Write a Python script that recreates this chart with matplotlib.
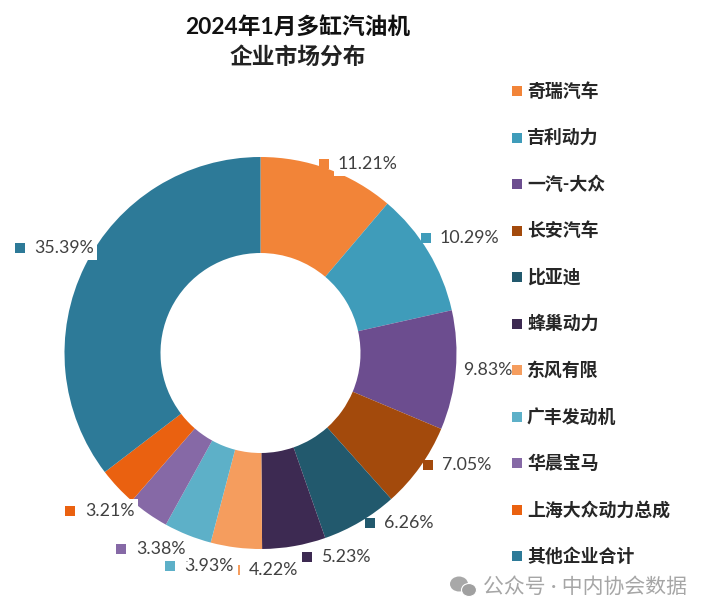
# -*- coding: utf-8 -*-
import matplotlib
matplotlib.use('Agg')
import matplotlib.pyplot as plt
from matplotlib.patches import Ellipse, Rectangle

plt.rcParams['font.family'] = ['Lato', 'Noto Sans CJK SC', 'DejaVu Sans']

# данные
companies = ['奇瑞汽车', '吉利动力', '一汽-大众', '长安汽车', '比亚迪', '蜂巢动力',
             '东风有限', '广丰发动机', '华晨宝马', '上海大众动力总成', '其他企业合计']
shares = [11.21, 10.29, 9.83, 7.05, 6.26, 5.23, 4.22, 3.93, 3.38, 3.21, 35.39]
colors = ['#F28438', '#3F9CBA', '#6C4D8F', '#A34A0C', '#22596D', '#3D2A52',
          '#F59D5E', '#5DB0C8', '#8669A6', '#EA6110', '#2D7A98']

H = 605
cx, cy, R, r = 260.5, 353, 196, 100

# где стоят подписи: маркер x, текст x, y (пиксели)
label_pos = [(324, 338, 164), (426, 440, 238), (None, 463, 370), (428, 442, 465),
             (370, 384, 523), (307, 321, 557), (239, 249, 570), (170, 184, 566),
             (121, 136, 549), (70, 85, 511), (20, 34, 248)]

fig = plt.figure(figsize=(7.04, 6.05), dpi=100)
ax = fig.add_axes([0, 0, 1, 1])

wedges, _ = ax.pie(shares, colors=colors, startangle=90, counterclock=False,
                   center=(cx, H - cy), radius=R, frame=True,
                   wedgeprops={'width': R - r, 'linewidth': 0})
ax.set_xlim(0, 704)
ax.set_ylim(0, H)
ax.set_aspect('equal')
ax.axis('off')

# подписи
for val, col, (mx, tx, y) in zip(shares, colors, label_pos):
    ax.text(tx, H - y, f'{val:.2f}%', fontsize=12.8, color='#404040', va='center',
            ha='left', zorder=5,
            bbox=dict(facecolor='white', edgecolor='none', pad=2.5))
    if mx is not None:
        w = 2 if val == 4.22 else 10
        ax.add_patch(Rectangle((mx - w / 2, H - y - 5), w, 10, facecolor=col,
                               edgecolor='none', zorder=6))

# заголовок
ax.text(298, H - 27, '2024年1月多缸汽油机', fontsize=16.4, fontweight='bold',
        ha='center', va='center', color='#111111')
ax.text(298, H - 57, '企业市场分布', fontsize=16.4, fontweight='bold',
        ha='center', va='center', color='#222222')

# легенда
for i, (name, col) in enumerate(zip(companies, colors)):
    y = 91 + i * 46.5
    ax.add_patch(Rectangle((512, H - y - 5), 10, 10, facecolor=col, edgecolor='none', zorder=7))
    ax.text(527, H - y, name, fontsize=12.9, fontweight='bold', color='#262626',
            ha='left', va='center', zorder=7)

# водяной знак
ax.add_patch(Ellipse((459, H - 584), 18, 15, facecolor='#A8A8A8', edgecolor='none', zorder=8))
ax.add_patch(Ellipse((469, H - 590), 15, 13, facecolor='#A0A0A0', edgecolor='white', lw=0.8, zorder=8))
ax.text(483, H - 587, '公众号 · 中内协会数据', fontsize=15, color='#A6A6A6',
        ha='left', va='center', zorder=8)

fig.savefig('out.png', dpi=100)
